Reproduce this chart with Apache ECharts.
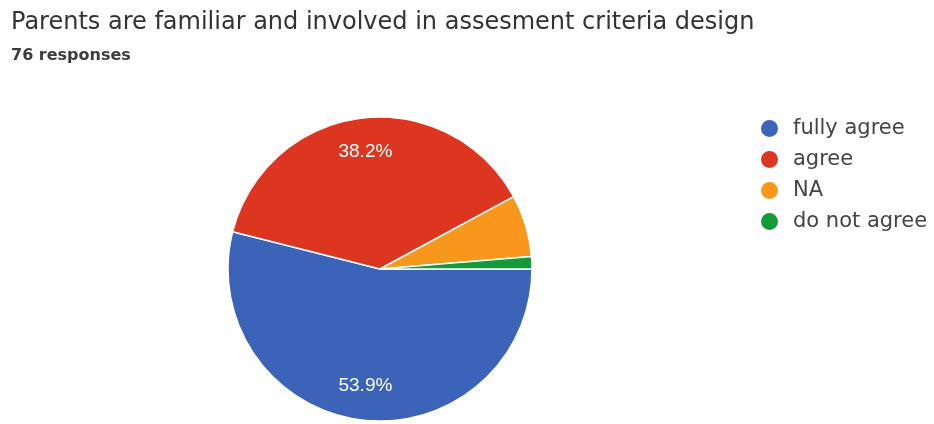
<!DOCTYPE html>
<html>
<head>
<meta charset="utf-8">
<script src="https://cdn.jsdelivr.net/npm/echarts@6/dist/echarts.min.js"></script>
<style>
html,body{margin:0;padding:0;background:#fff;}
#chart{width:934px;height:424px;}
</style>
</head>
<body>
<div id="chart"></div>
<script>
const titleText = "Parents are familiar and involved in assesment criteria design";
const subtitleText = "76 responses";
const categories = ["fully agree", "agree", "NA", "do not agree"];
const counts = [41, 29, 5, 1];
const colors = ["#3b63b7", "#dc3520", "#f7981c", "#149a38"];
const labelShown = [true, true, false, false];

const chart = echarts.init(document.getElementById('chart'));

const baseData = categories.map((c, i) => ({ name: c, value: counts[i], itemStyle: { color: colors[i] } }));
const labelData = categories.map((c, i) => ({ name: c, value: counts[i], label: { show: labelShown[i] } }));

chart.setOption({
  animation: false,
  backgroundColor: '#ffffff',
  title: [
    { text: titleText, left: 6, top: 6, textStyle: { fontFamily: 'DejaVu Sans', fontSize: 24, fontWeight: 'normal', color: '#333333' } },
    { text: subtitleText, left: 6, top: 43, textStyle: { fontFamily: 'DejaVu Sans', fontSize: 16, fontWeight: 'bold', color: '#3c3c3c' } }
  ],
  legend: {
    orient: 'vertical',
    left: 754,
    top: 113,
    icon: 'circle',
    itemWidth: 19,
    itemHeight: 19,
    itemGap: 10,
    data: categories,
    textStyle: { fontFamily: 'DejaVu Sans', fontSize: 21, lineHeight: 21, color: '#444444', padding: [0, 0, 0, 9] }
  },
  series: [
    {
      type: 'pie',
      center: [380, 269],
      radius: [0, 152],
      startAngle: 0,
      clockwise: true,
      percentPrecision: 1,
      label: { show: false },
      labelLine: { show: false },
      itemStyle: { borderColor: '#ffffff', borderWidth: 1.5 },
      emphasis: { disabled: true },
      data: baseData
    },
    {
      type: 'pie',
      center: [380, 269],
      radius: [78, 152],
      startAngle: 0,
      clockwise: true,
      silent: true,
      percentPrecision: 1,
      legendHoverLink: false,
      itemStyle: { color: 'rgba(0,0,0,0)', borderWidth: 0 },
      label: { show: true, position: 'inside', formatter: '{d}%', color: '#ffffff', fontFamily: 'Liberation Sans', fontSize: 19 },
      labelLine: { show: false },
      emphasis: { disabled: true },
      data: labelData
    }
  ]
});
</script>
</body>
</html>
